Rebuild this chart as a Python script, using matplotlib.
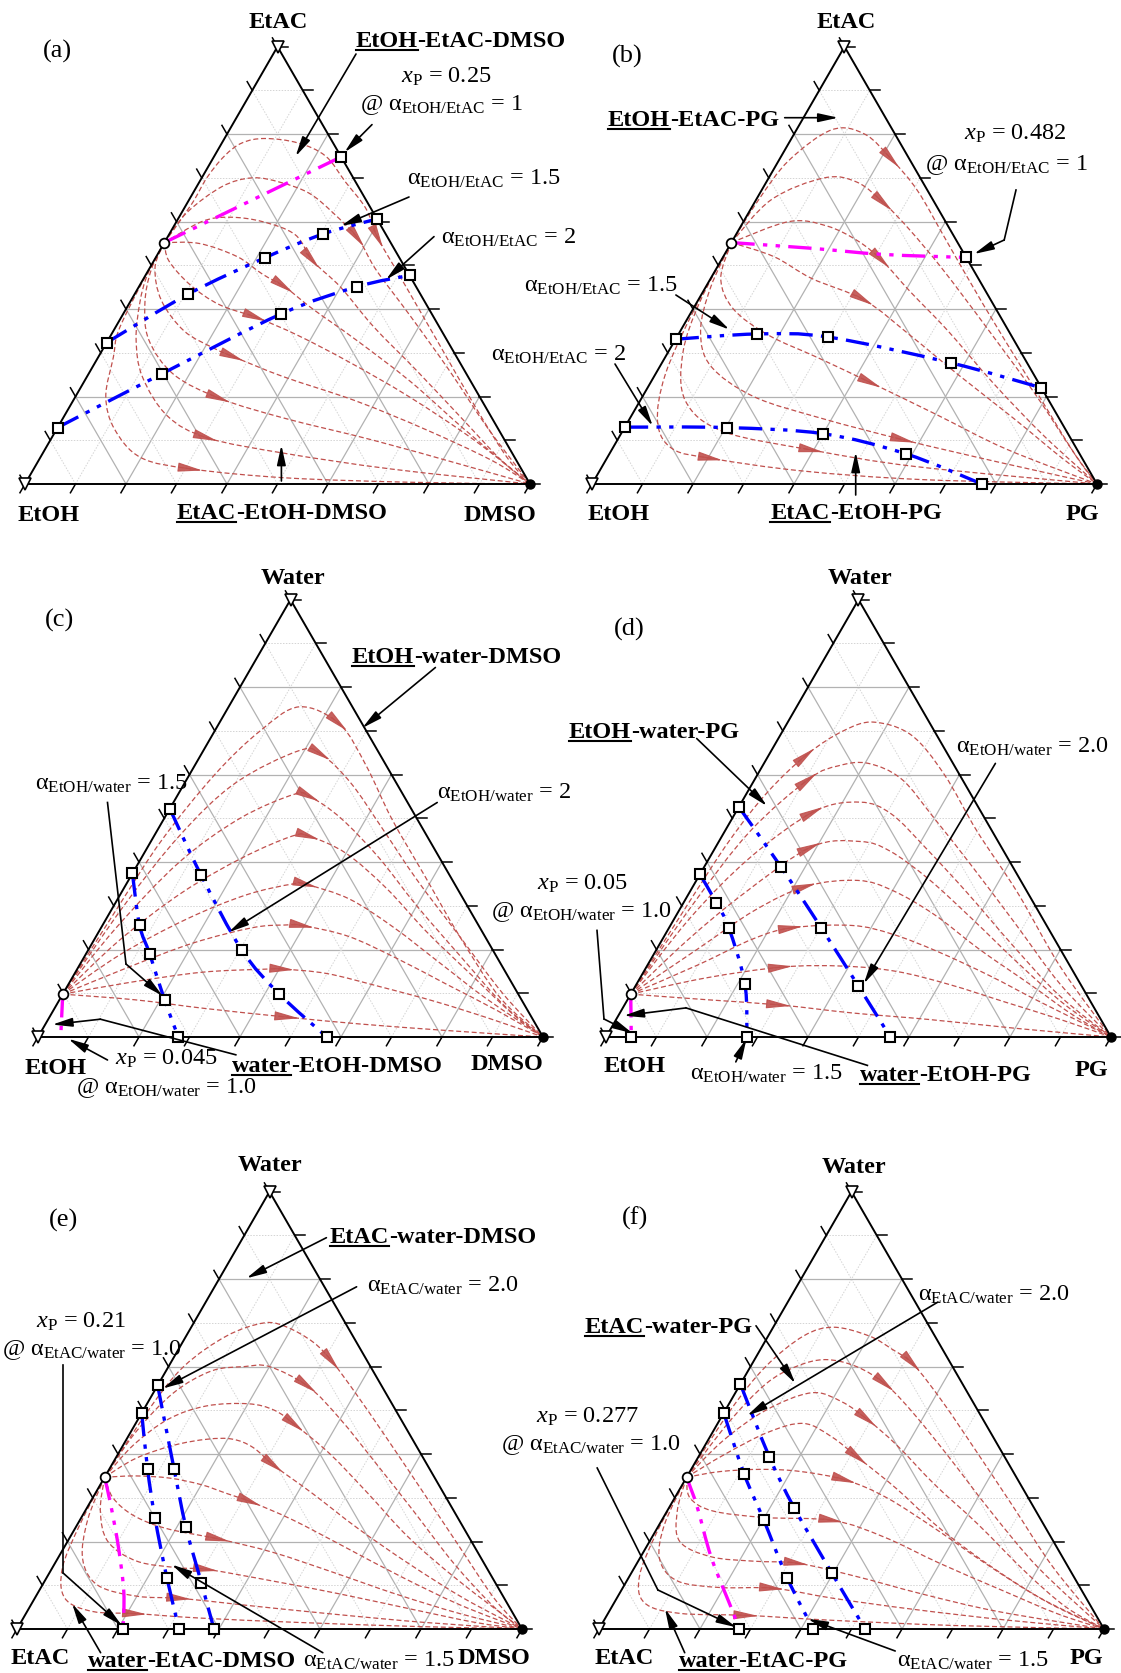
import numpy as np
import matplotlib
matplotlib.use("Agg")
import matplotlib.pyplot as plt
from matplotlib.path import Path
from matplotlib.patches import PathPatch

plt.rcParams['font.family'] = ['Liberation Serif', 'DejaVu Serif']
plt.rcParams['mathtext.fontset'] = 'custom'
plt.rcParams['mathtext.rm'] = 'Liberation Serif'
plt.rcParams['mathtext.it'] = 'Liberation Serif:italic'
plt.rcParams['mathtext.bf'] = 'Liberation Serif:bold'

# ---------------- data: compositions as (x_right_vertex, x_top_vertex) ----------------
# Panel (a)  EtOH (left) - DMSO (right) - EtAC (top)
A_AZEO = (0.0, 0.552)
A_MAG = [(0.0, 0.552), (0.252, 0.748)]
A_B15 = [(0.0, 0.323), (0.106, 0.434), (0.216, 0.517), (0.305, 0.572), (0.394, 0.606)]
A_B20 = [(0.0, 0.129), (0.145, 0.252), (0.313, 0.389), (0.432, 0.451), (0.523, 0.477)]
A_RC = [
    [(0, .552), (.01, .64), (.01, .70), (.02, .75), (.04, .78), (.08, .79), (.15, .78), (.22, .75), (.29, .69), (.36, .63), (.42, .56), (.52, .46), (.66, .32), (.81, .17), (.925, .06), (1, 0)],
    [(0, .552), (.01, .62), (.05, .68), (.10, .70), (.16, .69), (.23, .665), (.30, .62), (.38, .56), (.45, .49), (.57, .385), (.71, .26), (.85, .13), (1, 0)],
    [(0, .552), (.05, .60), (.10, .61), (.17, .60), (.25, .57), (.315, .51), (.40, .45), (.51, .36), (.645, .26), (.79, .15), (.915, .055), (1, 0)],
    [(0, .552), (.07, .55), (.16, .52), (.23, .48), (.29, .45), (.37, .40), (.49, .33), (.645, .235), (.80, .13), (.93, .045), (1, 0)],
    [(0, .552), (.03, .51), (.10, .455), (.18, .41), (.27, .38), (.37, .34), (.50, .28), (.66, .20), (.84, .10), (1, 0)],
    [(0, .552), (.01, .495), (.06, .42), (.14, .35), (.22, .31), (.27, .29), (.39, .245), (.56, .19), (.73, .125), (.895, .055), (1, 0)],
    [(0, .552), (.005, .49), (.03, .415), (.08, .33), (.17, .25), (.29, .195), (.44, .15), (.64, .10), (.84, .045), (1, 0)],
    [(0, .552), (.003, .48), (.02, .415), (.055, .33), (.11, .245), (.205, .155), (.31, .105), (.48, .07), (.71, .034), (1, 0)],
    [(0, .552), (.002, .45), (.01, .35), (.03, .29), (.06, .20), (.115, .125), (.20, .06), (.315, .034), (.51, .014), (.76, .004), (1, 0)],
]
A_ARW = [10, 7, 5, 4, 4, 5, 5, 6, 7]

# Panel (b)  EtOH - PG - EtAC
B_AZEO = (0.0, 0.552)
B_MAG = [(0.0, 0.552), (0.165, 0.539), (0.3135, 0.525), (0.482, 0.518)]
B_B15 = [(0.0, 0.331), (0.155, 0.343), (0.30, 0.336), (0.572, 0.277), (0.78, 0.22)]
B_B20 = [(0.0, 0.130), (0.202, 0.129), (0.40, 0.115), (0.587, 0.069), (0.772, 0.0)]
B_RC = [
    [(0, .552), (.005, .65), (.02, .74), (.07, .81), (.14, .80), (.225, .74), (.31, .67), (.42, .56), (.57, .41), (.75, .235), (.92, .07), (1, 0)],
    [(0, .552), (.03, .65), (.11, .70), (.18, .69), (.26, .64), (.34, .58), (.45, .49), (.60, .36), (.77, .21), (.92, .07), (1, 0)],
    [(0, .552), (.09, .60), (.17, .59), (.25, .555), (.32, .51), (.41, .44), (.53, .35), (.68, .23), (.84, .11), (1, 0)],
    [(0, .552), (.10, .52), (.20, .47), (.33, .42), (.46, .34), (.60, .25), (.76, .15), (.90, .06), (1, 0)],
    [(0, .552), (.02, .47), (.08, .40), (.18, .34), (.30, .29), (.44, .23), (.60, .16), (.78, .08), (1, 0)],
    [(0, .552), (.01, .45), (.04, .35), (.10, .27), (.22, .20), (.38, .15), (.57, .10), (.78, .05), (1, 0)],
    [(0, .552), (.005, .42), (.03, .30), (.09, .19), (.20, .12), (.40, .077), (.62, .04), (1, 0)],
    [(0, .552), (.003, .40), (.02, .25), (.06, .14), (.12, .08), (.21, .058), (.40, .03), (.65, .01), (1, 0)],
]
B_ARW = [5, 4, 4, 3, 5, 6, 5, 5]

# Panel (c)  EtOH - DMSO - Water
C_AZEO = (0.0, 0.098)
C_MAG = [(0.0, 0.098), (0.045, 0.0)]
C_B15 = [(0.0, 0.374), (0.073, 0.256), (0.127, 0.189), (0.208, 0.085), (0.278, 0.0)]
C_B20 = [(0.0, 0.522), (0.138, 0.370), (0.304, 0.199), (0.429, 0.098), (0.572, 0.0)]
C_RC = [
    [(0, .098), (.01, .30), (.02, .45), (.05, .60), (.09, .70), (.14, .755), (.24, .715), (.34, .62), (.45, .50), (.58, .37), (.72, .23), (.87, .09), (1, 0)],
    [(0, .098), (.02, .30), (.05, .46), (.10, .58), (.19, .655), (.24, .645), (.33, .58), (.44, .48), (.57, .36), (.72, .23), (.87, .10), (1, 0)],
    [(0, .098), (.03, .25), (.08, .40), (.15, .50), (.23, .555), (.265, .549), (.35, .50), (.47, .41), (.60, .30), (.75, .18), (.89, .07), (1, 0)],
    [(0, .098), (.05, .22), (.12, .33), (.20, .41), (.275, .46), (.31, .458), (.40, .42), (.52, .34), (.65, .24), (.79, .14), (.91, .055), (1, 0)],
    [(0, .098), (.07, .19), (.16, .27), (.25, .325), (.33, .35), (.36, .348), (.46, .315), (.58, .25), (.71, .17), (.84, .09), (1, 0)],
    [(0, .098), (.10, .16), (.20, .215), (.30, .25), (.36, .256), (.40, .254), (.50, .23), (.62, .18), (.75, .12), (.88, .06), (1, 0)],
    [(0, .098), (.12, .125), (.25, .148), (.37, .155), (.41, .155), (.50, .145), (.62, .115), (.75, .08), (.88, .04), (1, 0)],
    [(0, .098), (.15, .085), (.30, .065), (.475, .045), (.62, .03), (.80, .015), (1, 0)],
]
C_ARW = [6, 5, 5, 5, 5, 5, 4, 3]

# Panel (d)  EtOH - PG - Water
D_AZEO = (0.0, 0.098)
D_MAG = [(0.0, 0.098), (0.05, 0.0)]
D_B15 = [(0.0, 0.372), (0.065, 0.307), (0.118, 0.25), (0.214, 0.122), (0.279, 0.0)]
D_B20 = [(0.0, 0.526), (0.152, 0.389), (0.301, 0.25), (0.442, 0.116), (0.563, 0.0)]
D_RC = [
    [(0, .098), (.01, .30), (.02, .45), (.04, .56), (.075, .646), (.12, .70), (.17, .72), (.26, .69), (.37, .60), (.50, .47), (.65, .33), (.82, .16), (1, 0)],
    [(0, .098), (.02, .30), (.05, .47), (.107, .59), (.15, .62), (.205, .626), (.29, .59), (.40, .50), (.53, .39), (.68, .26), (.84, .12), (1, 0)],
    [(0, .098), (.03, .27), (.08, .41), (.155, .516), (.235, .537), (.31, .51), (.42, .43), (.55, .33), (.70, .21), (.85, .095), (1, 0)],
    [(0, .098), (.05, .22), (.11, .33), (.19, .435), (.28, .447), (.35, .425), (.46, .36), (.59, .27), (.73, .17), (.87, .075), (1, 0)],
    [(0, .098), (.08, .20), (.15, .29), (.225, .345), (.32, .358), (.40, .335), (.51, .28), (.64, .20), (.78, .12), (.90, .05), (1, 0)],
    [(0, .098), (.10, .165), (.18, .225), (.245, .25), (.36, .255), (.45, .235), (.56, .195), (.69, .14), (.82, .08), (1, 0)],
    [(0, .098), (.13, .135), (.27, .16), (.39, .162), (.50, .15), (.62, .12), (.75, .08), (.88, .04), (1, 0)],
    [(0, .098), (.16, .085), (.31, .073), (.46, .055), (.62, .04), (.80, .02), (1, 0)],
]
D_ARW = [4, 3, 3, 3, 3, 3, 2, 2]

# Panel (e)  EtAC - DMSO - Water
E_AZEO = (0.0, 0.347)
E_MAG = [(0.0, 0.347), (0.047, 0.279), (0.108, 0.186), (0.169, 0.085), (0.21, 0.0)]
E_B15 = [(0.0, 0.494), (0.0755, 0.366), (0.1465, 0.2535), (0.239, 0.116), (0.321, 0.0)]
E_B20 = [(0.0, 0.557), (0.128, 0.366), (0.218, 0.233), (0.312, 0.106), (0.39, 0.0)]
E_RC = [
    [(0, .347), (.01, .50), (.03, .60), (.08, .67), (.14, .70), (.19, .69), (.26, .655), (.32, .61), (.40, .54), (.51, .44), (.64, .32), (.78, .19), (.91, .07), (1, 0)],
    [(0, .347), (.01, .45), (.04, .54), (.09, .59), (.15, .60), (.20, .60), (.30, .554), (.40, .48), (.52, .38), (.65, .27), (.79, .15), (.92, .05), (1, 0)],
    [(0, .347), (.02, .42), (.06, .48), (.12, .51), (.20, .515), (.26, .50), (.32, .465), (.42, .40), (.54, .31), (.67, .21), (.82, .11), (1, 0)],
    [(0, .347), (.04, .39), (.10, .42), (.16, .434), (.21, .434), (.26, .415), (.325, .372), (.43, .31), (.56, .23), (.70, .15), (.85, .07), (1, 0)],
    [(0, .347), (.06, .35), (.13, .345), (.20, .33), (.26, .31), (.32, .29), (.42, .25), (.55, .19), (.70, .12), (.85, .055), (1, 0)],
    [(0, .347), (.04, .30), (.10, .26), (.18, .23), (.30, .205), (.42, .175), (.56, .13), (.71, .08), (.86, .035), (1, 0)],
    [(0, .347), (.03, .27), (.08, .20), (.16, .155), (.25, .14), (.31, .136), (.45, .11), (.60, .08), (.76, .045), (.90, .015), (1, 0)],
    [(0, .347), (.015, .25), (.05, .16), (.11, .10), (.20, .075), (.29, .07), (.42, .055), (.60, .035), (.80, .015), (1, 0)],
    [(0, .347), (.005, .24), (.02, .14), (.06, .07), (.13, .04), (.22, .035), (.35, .025), (.55, .015), (.78, .006), (1, 0)],
]
E_ARW = [7, 6, 6, 6, 5, 4, 5, 5, 5]

# Panel (f)  EtAC - PG - Water
F_AZEO = (0.0, 0.347)
F_MAG = [(0.0, 0.347), (0.055, 0.279), (0.141, 0.163), (0.2456, 0.039), (0.277, 0.0)]
F_B15 = [(0.0, 0.494), (0.1105, 0.354), (0.201, 0.25), (0.315, 0.116), (0.424, 0.0)]
F_B20 = [(0.0, 0.56), (0.141, 0.393), (0.248, 0.277), (0.397, 0.128), (0.527, 0.0)]
F_RC = [
    [(0, .347), (.01, .50), (.03, .60), (.07, .67), (.12, .69), (.20, .67), (.26, .64), (.32, .605), (.42, .52), (.54, .41), (.68, .28), (.83, .14), (1, 0)],
    [(0, .347), (.02, .47), (.05, .56), (.09, .60), (.14, .616), (.21, .60), (.29, .558), (.38, .49), (.50, .39), (.64, .27), (.80, .14), (1, 0)],
    [(0, .347), (.03, .43), (.08, .50), (.15, .54), (.22, .52), (.295, .477), (.38, .42), (.50, .33), (.63, .24), (.78, .13), (.90, .05), (1, 0)],
    [(0, .347), (.05, .40), (.11, .45), (.17, .47), (.24, .44), (.32, .39), (.43, .32), (.56, .23), (.71, .14), (.86, .06), (1, 0)],
    [(0, .347), (.06, .36), (.14, .365), (.22, .36), (.32, .34), (.42, .30), (.55, .23), (.69, .15), (.84, .07), (1, 0)],
    [(0, .347), (.03, .30), (.09, .27), (.20, .255), (.34, .248), (.46, .21), (.60, .15), (.75, .09), (.89, .035), (1, 0)],
    [(0, .347), (.02, .27), (.06, .20), (.14, .165), (.23, .155), (.32, .15), (.45, .12), (.60, .08), (.77, .04), (1, 0)],
    [(0, .347), (.01, .24), (.04, .16), (.10, .11), (.19, .095), (.30, .093), (.43, .07), (.60, .045), (.80, .02), (1, 0)],
    [(0, .347), (.004, .22), (.02, .12), (.06, .06), (.14, .036), (.28, .031), (.45, .02), (.70, .008), (1, 0)],
]
F_ARW = [7, 6, 5, 5, 4, 4, 5, 5, 5]

# ---------------- layout ----------------
FIG_W, FIG_H = 1121, 1674
SIDE = 505
ORIGIN = {'a': (25, 485), 'b': (592, 485), 'c': (38, 1038),
          'd': (606, 1038), 'e': (17, 1630), 'f': (599, 1630)}
RC = '#c0504d'
BLUE = '#0000ff'
MAG = '#ff00ff'
DASHDOT2 = (0, (7, 2.5, 1.3, 2.5, 1.3, 2.5))

fig = plt.figure(figsize=(FIG_W / 100, FIG_H / 100), dpi=100)
fig.patch.set_facecolor('white')


def cart(pts):
    a = np.asarray(pts, float)
    return a[:, 0] + a[:, 1] / 2.0, a[:, 1] * np.sqrt(3) / 2.0


def smooth_path(x, y):
    """Smooth Bezier path passing through the read points."""
    P = np.column_stack([x, y])
    n = len(P)
    verts = [P[0]]
    codes = [Path.MOVETO]
    for i in range(n - 1):
        p0 = P[i - 1] if i > 0 else P[i]
        p1 = P[i]
        p2 = P[i + 1]
        p3 = P[i + 2] if i + 2 < n else P[i + 1]
        verts += [p1 + (p2 - p0) / 6.0, p2 - (p3 - p1) / 6.0, p2]
        codes += [Path.CURVE4] * 3
    return Path(verts, codes)


def smooth_line(ax, pts, **kw):
    x, y = cart(pts)
    ax.add_patch(PathPatch(smooth_path(x, y), fill=False, **kw))
    return x, y


def draw_panel(key, azeo, mag, mag_end, b15, b20, curves, arws):
    Lx, Ly = ORIGIN[key]
    ax = fig.add_axes([0, 0, 1, 1])
    ax.set_xlim(-Lx / SIDE, (FIG_W - Lx) / SIDE)
    ax.set_ylim((Ly - FIG_H) / SIDE, Ly / SIDE)
    ax.axis('off')
    ax.patch.set_alpha(0)
    # grid
    for k in range(1, 10):
        f = k / 10
        if k % 2 == 0:
            kw = dict(color='#b2b2b2', lw=0.9, ls='-')
        else:
            kw = dict(color='#d4d4d4', lw=0.7, ls=(0, (1.5, 1.5)))
        for seg in ([(0, f), (1 - f, f)], [(f, 0), (f, 1 - f)], [(1 - f, 0), (0, 1 - f)]):
            x, y = cart(seg)
            ax.plot(x, y, zorder=1, **kw)
    # residue curves
    for c, i in zip(curves, arws):
        x, y = smooth_line(ax, c, edgecolor=RC, lw=0.9, ls=(0, (4, 2.2)), zorder=2)
        pa = np.array([x[i - 1], y[i - 1]])
        pb = np.array([x[i + 1], y[i + 1]])
        d = (pb - pa) / np.hypot(*(pb - pa))
        m = np.array([x[i], y[i]])
        ax.annotate('', xy=m + d * 0.02, xytext=m - d * 0.02,
                    arrowprops=dict(arrowstyle='-|>,head_length=0.7,head_width=0.13',
                                    color=RC, lw=0.8, mutation_scale=22,
                                    shrinkA=0, shrinkB=0, alpha=0.9), zorder=3)
    # edges
    x, y = cart([(0, 0), (1, 0), (0, 1), (0, 0)])
    ax.plot(x, y, color='k', lw=1.4, zorder=4, solid_joinstyle='miter')
    # ticks
    t = 0.02
    for k in range(0, 11):
        f = k / 10
        bx, by = cart([(f, 0)])
        ax.plot([bx[0], bx[0] - 0.5 * t], [by[0], by[0] - 0.866 * t], color='k', lw=1.1, zorder=4)
        rx, ry = cart([(1 - f, f)])
        ax.plot([rx[0], rx[0] + t], [ry[0], ry[0]], color='k', lw=1.1, zorder=4)
        lx, ly = cart([(0, f)])
        ax.plot([lx[0], lx[0] - 0.5 * t], [ly[0], ly[0] + 0.866 * t], color='k', lw=1.1, zorder=4)
    # vertex markers
    x, y = cart([(0, 0), (0, 1)])
    ax.plot(x, y, 'v', ms=8, mfc='white', mec='k', mew=1.2, zorder=7, clip_on=False)
    x, y = cart([(1, 0)])
    ax.plot(x, y, 'o', ms=6.5, color='k', zorder=7, clip_on=False)
    # magenta line
    x, y = smooth_line(ax, mag, edgecolor=MAG, lw=2.4, ls=DASHDOT2, zorder=5)
    if mag_end:
        ax.plot(x[-1:], y[-1:], 's', ms=7, mfc='white', mec='k', mew=1.5, zorder=6)
    # blue lines
    for b in (b15, b20):
        x, y = smooth_line(ax, b, edgecolor=BLUE, lw=2.4, ls=DASHDOT2, zorder=5)
        ax.plot(x, y, 's', ms=7, mfc='white', mec='k', mew=1.5, zorder=6)
    # azeotrope
    x, y = cart([azeo])
    ax.plot(x, y, 'o', ms=7, mfc='white', mec='k', mew=1.3, zorder=7)
    return ax


draw_panel('a', A_AZEO, A_MAG, True, A_B15, A_B20, A_RC, A_ARW)
draw_panel('b', B_AZEO, B_MAG, True, B_B15, B_B20, B_RC, B_ARW)
draw_panel('c', C_AZEO, C_MAG, False, C_B15, C_B20, C_RC, C_ARW)
draw_panel('d', D_AZEO, D_MAG, True, D_B15, D_B20, D_RC, D_ARW)
draw_panel('e', E_AZEO, E_MAG, True, E_B15, E_B20, E_RC, E_ARW)
draw_panel('f', F_AZEO, F_MAG, True, F_B15, F_B20, F_RC, F_ARW)

# ---------------- annotation overlay (pixel coordinates) ----------------
over = fig.add_axes([0, 0, 1, 1])
over.set_xlim(0, FIG_W)
over.set_ylim(FIG_H, 0)
over.axis('off')
over.patch.set_alpha(0)
renderer = fig.canvas.get_renderer()

RS = 17.5   # regular size
BS = 17.5   # bold size


def T(x, y, s, size=RS, bold=False, ha='center', va='center'):
    over.text(x, y, s, fontsize=size, fontweight='bold' if bold else 'normal',
              ha=ha, va=va, zorder=10)


def UL(x, y, first, rest, size=BS):
    t1 = over.text(x, y, first, fontsize=size, fontweight='bold', ha='left', va='baseline', zorder=10)
    bb = t1.get_window_extent(renderer)
    inv = over.transData.inverted()
    (x0, _), (x1, _) = inv.transform([(bb.x0, bb.y0), (bb.x1, bb.y0)])
    over.text(x1, y, rest, fontsize=size, fontweight='bold', ha='left', va='baseline', zorder=10)
    over.plot([x0, x1], [y + 3.5, y + 3.5], color='k', lw=1.5, zorder=10)


def ARR(*pts):
    pts = list(pts)
    if len(pts) > 2:
        xs = [p[0] for p in pts[:-1]]
        ys = [p[1] for p in pts[:-1]]
        over.plot(xs, ys, color='k', lw=1.2, zorder=9)
    over.annotate('', xy=pts[-1], xytext=pts[-2],
                  arrowprops=dict(arrowstyle='-|>,head_length=1.0,head_width=0.22',
                                  color='k', lw=1.2, mutation_scale=12,
                                  shrinkA=0, shrinkB=0), zorder=9)


def alpha(sub, val):
    return 'α$_{\\mathrm{' + sub + '}}$ = ' + val


def xp(val):
    return '$x_{\\mathrm{P}}$ = ' + val


# (a)
T(57.7, 51.5, '(a)', size=19)
T(278, 22, 'EtAC', bold=True)
T(48.8, 515, 'EtOH', bold=True)
T(500, 515, 'DMSO', bold=True)
UL(177, 519, 'EtAC', '-EtOH-DMSO')
ARR((281.4, 482), (281.4, 446))
UL(355.5, 47, 'EtOH', '-EtAC-DMSO')
ARR((356, 55), (295.6, 157.4))
T(446.5, 77.3, xp('0.25'))
T(442, 105, '@ ' + alpha('EtOH/EtAC', '1'))
ARR((372, 125.6), (344.6, 153.2))
T(407.4, 179, alpha('EtOH/EtAC', '1.5'), ha='left')
ARR((409, 198), (341, 227))
T(441, 237.6, alpha('EtOH/EtAC', '2'), ha='left')
ARR((434, 237.6), (386, 280.7))

# (b)
T(627.7, 56.7, '(b)', size=19)
T(846, 22, 'EtAC', bold=True)
T(618.8, 514, 'EtOH', bold=True)
T(1082.7, 514, 'PG', bold=True)
UL(770.4, 519, 'EtAC', '-EtOH-PG')
ARR((855.7, 496), (855.7, 453))
UL(608, 126, 'EtOH', '-EtAC-PG')
ARR((784.7, 118.7), (838.3, 118.7))
T(1015, 134, xp('0.482'))
T(1007, 165, '@ ' + alpha('EtOH/EtAC', '1'))
ARR((1016, 191), (1004.2, 241), (974, 255))
T(678, 286, alpha('EtOH/EtAC', '1.5'), ha='right')
ARR((675.9, 296), (729.4, 330.6))
T(626, 354.7, alpha('EtOH/EtAC', '2'), ha='right')
ARR((615, 365), (652.7, 427))

# (c)
T(292.8, 578, 'Water', bold=True)
T(59.4, 620.5, '(c)', size=19)
UL(351.6, 663, 'EtOH', '-water-DMSO')
ARR((435.4, 668.5), (362.3, 729))
T(111, 784, alpha('EtOH/water', '1.5'))
ARR((107.5, 803.5), (126, 965), (162.7, 997))
T(437, 793, alpha('EtOH/water', '2'), ha='left')
ARR((437.2, 803.5), (228.7, 933.2))
T(55.8, 1069, 'EtOH', bold=True)
T(506.7, 1064, 'DMSO', bold=True)
UL(232, 1072, 'water', '-EtOH-DMSO')
ARR((235.8, 1055.8), (100.4, 1020.2), (52.3, 1025.6))
T(166.3, 1059.3, xp('0.045'))
T(166.3, 1087.7, '@ ' + alpha('EtOH/water', '1.0'))
ARR((107.5, 1061), (68.3, 1039.8))

# (d)
T(860.3, 578, 'Water', bold=True)
T(629.1, 629.4, '(d)', size=19)
UL(568.7, 738, 'EtOH', '-water-PG')
ARR((696.7, 739.5), (767, 807))
T(956, 746.7, alpha('EtOH/water', '2.0'), ha='left')
ARR((995.4, 764.4), (863.8, 984.7))
T(627.3, 883.4, xp('0.05'), ha='right')
T(671.8, 912, '@ ' + alpha('EtOH/water', '1.0'), ha='right')
ARR((597, 931.4), (604, 1020), (632.7, 1034.4))
ARR((867.4, 1066.4), (686, 1008.9), (623.8, 1016.7))
T(634.4, 1066.4, 'EtOH', bold=True)
T(1091.4, 1070, 'PG', bold=True)
T(689.6, 1073.5, alpha('EtOH/water', '1.5'), ha='left')
ARR((735.8, 1062.9), (746.5, 1039.8))
UL(860, 1081, 'water', '-EtOH-PG')

# (e)
T(269.5, 1165.8, 'Water', bold=True)
T(63.2, 1220, '(e)', size=19)
UL(330, 1243, 'EtAC', '-water-DMSO')
ARR((326.4, 1238.7), (246.4, 1279.3))
T(367.3, 1286, alpha('EtAC/water', '2.0'), ha='left')
ARR((356.6, 1287.8), (162.8, 1389.5))
T(81, 1321.7, xp('0.21'))
T(2, 1350.5, '@ ' + alpha('EtAC/water', '1.0'), ha='left')
ARR((63.2, 1365.7), (63.2, 1574.1), (121.9, 1626.6))
T(40.1, 1658.5, 'EtAC', bold=True)
UL(88, 1667, 'water', '-EtAC-DMSO')
ARR((100.6, 1653.7), (72.1, 1604.6))
T(303, 1660.5, alpha('EtAC/water', '1.5'), ha='left')
ARR((322.8, 1653.7), (171.7, 1565.6))
T(493.5, 1658.5, 'DMSO', bold=True)

# (f)
T(854.2, 1167.5, 'Water', bold=True)
T(634.7, 1218.4, '(f)', size=19)
UL(584.7, 1333, 'EtAC', '-water-PG')
ARR((756, 1326.8), (795.3, 1384.4))
T(918.4, 1294.6, alpha('EtAC/water', '2.0'), ha='left')
ARR((938, 1303), (747.1, 1416.6))
T(638.3, 1416.6, xp('0.277'), ha='right')
T(681, 1445.4, '@ ' + alpha('EtAC/water', '1.0'), ha='right')
ARR((597.2, 1469), (657.9, 1591), (736.4, 1628.3))
T(624, 1658.5, 'EtAC', bold=True)
UL(679.3, 1667, 'water', '-EtAC-PG')
ARR((684.7, 1653.7), (665, 1609.7))
T(897, 1660.5, alpha('EtAC/water', '1.5'), ha='left')
ARR((895.2, 1652), (807.8, 1619.8))
T(1086.2, 1658.5, 'PG', bold=True)

fig.savefig('out.png', dpi=100, facecolor='white')
